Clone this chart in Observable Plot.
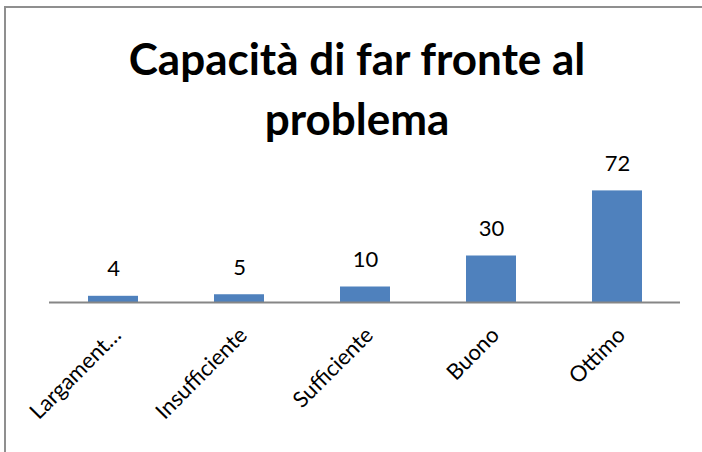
<!DOCTYPE html>
<html><head><meta charset="utf-8">
<script src="https://cdn.jsdelivr.net/npm/d3@7"></script>
<script src="https://cdn.jsdelivr.net/npm/@observablehq/plot@0.6"></script>
<style>
html,body{margin:0;padding:0;background:#fff;}
#wrap{position:relative;width:702px;height:452px;overflow:hidden;background:#fff;font-family:Lato,sans-serif;}
#frame{position:absolute;left:4px;top:6px;width:720px;height:480px;border:2px solid #8f8f8f;box-sizing:border-box;pointer-events:none;}
#title{position:absolute;left:6px;top:28px;width:702px;text-align:center;font-weight:700;font-size:44px;line-height:60px;color:#000;}
#chart{position:absolute;left:0;top:140px;}
</style></head><body>
<div id="wrap"><div id="title">Capacità di far fronte al<br>problema</div><div id="chart"></div><div id="frame"></div></div>
<script>
const categories = ["Largament…","Insufficiente","Sufficiente","Buono","Ottimo"];
const values = [4, 5, 10, 30, 72];
const data = categories.map((c, i) => ({c, v: values[i]}));
const chart = Plot.plot({
  width: 702, height: 312,
  marginLeft: 49, marginRight: 22, marginTop: 38, marginBottom: 150,
  style: {fontFamily: "Lato, sans-serif", fontSize: "22px", background: "transparent", overflow: "visible", color: "#000"},
  x: {domain: categories, padding: 0, axis: null},
  y: {domain: [0, 80], axis: null},
  marks: [
    Plot.barY(data, {x: "c", y: "v", fill: "#4F81BD", insetLeft: 38, insetRight: 38}),
    Plot.ruleY([0], {stroke: "#868686", strokeWidth: 2}),
    Plot.text(data, {x: "c", y: "v", text: d => String(d.v), dy: -20, lineAnchor: "bottom", fontSize: 22, fill: "#000"}),
    Plot.axisX({label: null, tickSize: 0, tickRotate: -45, tickPadding: 23, dx: -2, textAnchor: "end", lineAnchor: "top", fontSize: 22, fill: "#000"})
  ]
});
document.getElementById("chart").appendChild(chart);
</script>
</body></html>
